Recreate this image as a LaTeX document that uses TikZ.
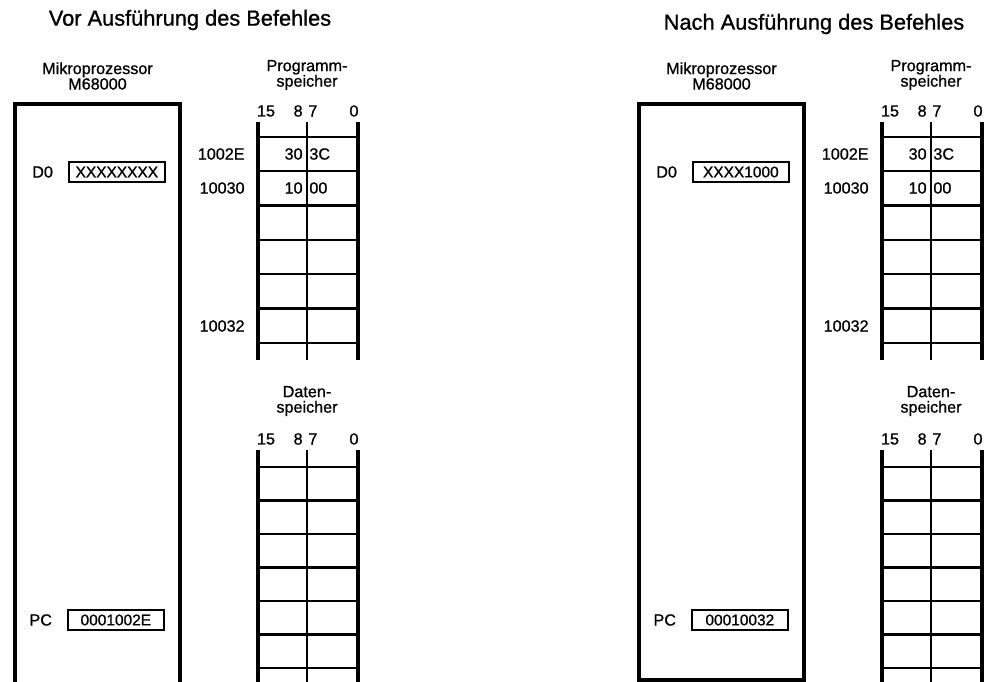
\documentclass[tikz,border=0pt]{standalone}
\usepackage{fontspec}
\setmainfont{Liberation Sans}[FakeBold=0.9]
\usetikzlibrary{positioning}

\begin{document}
\begin{tikzpicture}[x=0.025cm,y=-0.025cm,node distance=9pt,
title/.style={font=\fontsize{15.5}{18}\selectfont,inner sep=0pt},
head/.style={font=\fontsize{11.5}{11}\selectfont,align=center,inner sep=0pt},
lbl/.style={font=\fontsize{11.5}{13}\selectfont,inner sep=1.5pt},
reg/.style={draw,line width=1.2pt,font=\fontsize{11}{13}\selectfont,minimum width=2.4cm,minimum height=0.5cm,inner sep=1pt},
frame/.style={line width=2.3pt},
rail/.style={line width=2.4pt},
rung/.style={line width=1.6pt}]
\useasboundingbox (0,0) rectangle (986,682);
\clip (0,0) rectangle (986,682);
\foreach \nm/\dx/\ty/\ttl/\dval/\pcval/\bot in {vor/0/20/Vor/XXXXXXXX/0001002E/700,nach/624/24/Nach/XXXX1000/00010032/680}{
\begin{scope}[shift={(\dx,0)}]
\node[title](\nm-title) at (190,\ty){\ttl\ Ausführung des Befehles};
\node[head](\nm-cpuhead) at (97.5,76){Mikroprozessor\\M68000};
\node[head](\nm-pmhead) at (307,75){Programm-\\speicher};
\node[head](\nm-dmhead) at (307,401){Daten-\\speicher};
\draw[frame](15,104) rectangle (180,\bot);
\node[reg,anchor=west](\nm-d0) at (68,172){\dval};
\node[lbl,left=of \nm-d0](\nm-d0lbl){D0};
\node[reg,anchor=west](\nm-pc) at (67,620){\pcval};
\node[lbl,left=of \nm-pc](\nm-pclbl){PC};
\foreach \yy/\part in {111/pm,439/dm}{
\node[lbl](\nm-\part-b15) at (266,\yy){15};
\node[lbl,anchor=east](\nm-\part-b8) at (305,\yy){8};
\node[lbl,anchor=west](\nm-\part-b7) at (306,\yy){7};
\node[lbl](\nm-\part-b0) at (354,\yy){0};}
\draw[rail](258,122)--(258,360) (358,122)--(358,360);\draw[rung](307,122)--(307,360);
\foreach \i in {0,...,6}\draw[rung](258,137+34.3*\i)--(358,137+34.3*\i);
\draw[rail](258,450)--(258,700) (358,450)--(358,700);\draw[rung](307,450)--(307,700);
\foreach \i in {0,...,6}\draw[rung](258,467+33.5*\i)--(358,467+33.5*\i);
\node[lbl,anchor=east](\nm-a1) at (247,154){1002E};
\node[lbl,anchor=east](\nm-a2) at (247,188){10030};
\node[lbl,anchor=east](\nm-a3) at (247,326){10032};
\node[lbl,anchor=east](\nm-c1h) at (305,154){30};\node[lbl,anchor=west](\nm-c1l) at (307,154){3C};
\node[lbl,anchor=east](\nm-c2h) at (305,188){10};\node[lbl,anchor=west](\nm-c2l) at (307,188){00};
\end{scope}}
\end{tikzpicture}
\end{document}
